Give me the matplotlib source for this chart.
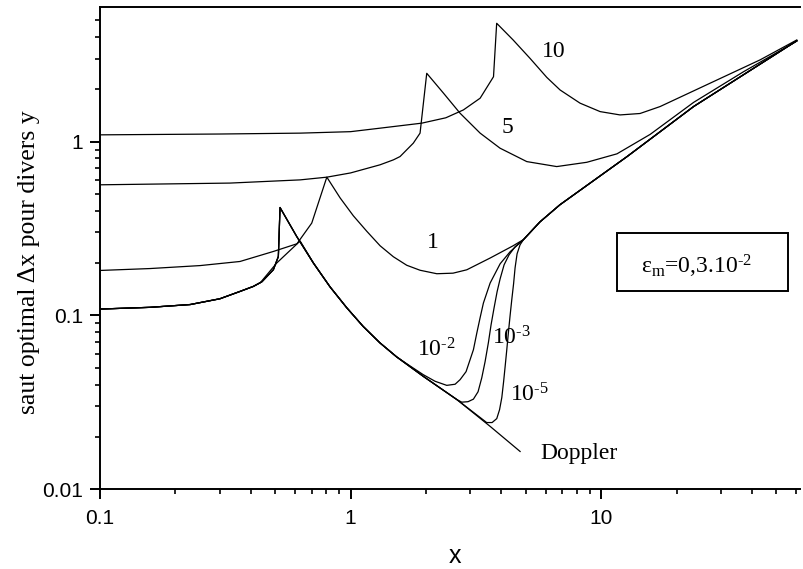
import numpy as np
import matplotlib.pyplot as plt
from matplotlib.patches import Rectangle
from matplotlib.ticker import LogLocator, NullFormatter

plt.rcParams['font.family'] = 'Liberation Serif'
plt.rcParams['mathtext.fontset'] = 'custom'
plt.rcParams['mathtext.rm'] = 'Liberation Serif'
plt.rcParams['mathtext.it'] = 'Liberation Serif:italic'

# y = 10
x10 = [0.1, 0.3, 0.629, 1.0, 1.311, 1.924, 2.4, 2.82, 3.29, 3.72, 3.83, 4.454, 5.207, 6.071, 6.86,
       8.24, 9.91, 11.9, 14.3, 17.2, 27.3, 43.1, 60.4]
y10 = [1.093, 1.105, 1.118, 1.14, 1.194, 1.276, 1.37, 1.52, 1.776, 2.36, 4.79, 3.842, 3.007, 2.339, 1.98,
       1.663, 1.487, 1.423, 1.45, 1.59, 2.17, 2.95, 3.84]

# y = 5
x5 = [0.1, 0.33, 0.629, 0.804, 1.0, 1.311, 1.483, 1.576, 1.78, 1.894, 2.014, 2.35, 2.735, 3.29,
      3.95, 5.05, 6.65, 8.77, 11.57, 15.7, 23.4, 37.0, 60.4]
y5 = [0.564, 0.577, 0.602, 0.624, 0.66, 0.735, 0.785, 0.820, 0.979, 1.118, 2.47, 1.897, 1.456, 1.118,
      0.916, 0.767, 0.718, 0.76, 0.85, 1.10, 1.68, 2.52, 3.78]

# y = 1
x1 = [0.1, 0.158, 0.251, 0.362, 0.492, 0.611, 0.700, 0.804, 0.908, 1.026, 1.161, 1.312, 1.482,
      1.676, 1.894, 2.209, 2.565, 2.91, 3.61, 4.454]
y1 = [0.1814, 0.186, 0.1935, 0.2043, 0.2333, 0.2583, 0.3397, 0.6243, 0.4747, 0.3741, 0.3047, 0.2515,
      0.2175, 0.1943, 0.1819, 0.1737, 0.175, 0.183, 0.214, 0.2515]

# small y: rise with the cusp, and the rounder rise of y = 1e-2
rise_x = [0.1, 0.158, 0.229, 0.301, 0.362, 0.409, 0.443, 0.492, 0.515, 0.523]
rise_y = [0.1088, 0.1113, 0.1155, 0.1247, 0.1374, 0.1468, 0.1563, 0.1832, 0.2183, 0.4175]
rise2_x = [0.1, 0.158, 0.229, 0.301, 0.362, 0.409, 0.436, 0.507, 0.629]
rise2_y = [0.1088, 0.1113, 0.1155, 0.1247, 0.1374, 0.1468, 0.154, 0.200, 0.268]

# Doppler branch
dop_x = [0.610, 0.711, 0.828, 0.964, 1.123, 1.309, 1.526, 1.952, 2.657, 3.607, 4.75]
dop_y = [0.284, 0.200, 0.146, 0.111, 0.0864, 0.0696, 0.0578, 0.0446, 0.0328, 0.0230, 0.0165]

# departures from the Doppler branch
xm2 = [1.728, 1.952, 2.175, 2.421, 2.614, 2.736, 2.891, 2.999, 3.093, 3.191, 3.289, 3.390, 3.606,
       3.954, 4.332]
ym2 = [0.0512, 0.0456, 0.0418, 0.0396, 0.0402, 0.0427, 0.0475, 0.0556, 0.0635, 0.0792, 0.0970,
       0.1178, 0.1535, 0.1982, 0.2323]
xm3 = [2.779, 2.944, 3.093, 3.228, 3.340, 3.443, 3.549, 3.638, 3.740, 3.845, 3.954, 4.101, 4.293,
       4.536]
ym3 = [0.0317, 0.0319, 0.0330, 0.0364, 0.0438, 0.0542, 0.0697, 0.0884, 0.1107, 0.1369, 0.1625,
       0.1956, 0.2233, 0.2482]
xm5 = [3.494, 3.672, 3.833, 3.933, 4.015, 4.082, 4.139, 4.203, 4.265, 4.332, 4.400, 4.474, 4.536,
       4.620, 4.749]
ym5 = [0.0242, 0.0242, 0.0255, 0.0287, 0.0337, 0.0416, 0.0507, 0.0635, 0.0795, 0.0996, 0.1231,
       0.1521, 0.1879, 0.2262, 0.2549]

# common large-x behaviour
asym_x = [4.90, 5.70, 6.85, 12.7, 23.4, 60.4]
asym_y = [0.273, 0.345, 0.433, 0.82, 1.59, 3.80]

curves = [
    (x10, y10),
    (x5, y5),
    (x1 + asym_x, y1 + asym_y),
    (rise_x + dop_x, rise_y + dop_y),
    (rise2_x + dop_x[1:7] + xm2 + asym_x, rise2_y + dop_y[1:7] + ym2 + asym_y),
    (rise_x + dop_x[:9] + xm3 + asym_x, rise_y + dop_y[:9] + ym3 + asym_y),
    (rise_x + dop_x[:9] + xm5 + asym_x, rise_y + dop_y[:9] + ym5 + asym_y),
]

fig = plt.figure(figsize=(8.04, 5.69), dpi=100)
ax = fig.add_axes([0.1244, 0.1401, 0.8706, 0.8471])

for cx, cy in curves:
    ax.plot(cx, cy, color='black', lw=0.9)

ax.set_xscale('log')
ax.set_yscale('log')
ax.set_xlim(0.1, 62.2)
ax.set_ylim(0.01, 5.92)

ax.set_xticks([0.1, 1, 10])
ax.set_xticklabels(['0.1', '1', '10'], family='Liberation Sans', fontsize=15)
ax.set_yticks([0.01, 0.1, 1])
ax.set_yticklabels(['0.01', '0.1', '1'], family='Liberation Sans', fontsize=15)
for axis in (ax.xaxis, ax.yaxis):
    axis.set_minor_locator(LogLocator(base=10, subs=np.arange(2, 10)))
    axis.set_minor_formatter(NullFormatter())
ax.tick_params(which='major', direction='out', length=7, width=1.4)
ax.tick_params(which='minor', direction='out', length=3.5, width=1.2)
ax.tick_params(axis='x', which='major', pad=7)
ax.tick_params(axis='y', which='major', pad=5)

ax.spines['right'].set_visible(False)
for s in ('left', 'bottom', 'top'):
    ax.spines[s].set_linewidth(1.4)

ax.set_ylabel('saut optimal \u0394x pour divers y', fontsize=18.5)
ax.yaxis.set_label_coords(-0.0857, 0.4716)
ax.set_xlabel('x', family='Liberation Sans', fontsize=18)
ax.xaxis.set_label_coords(0.507, -0.153)
ax.xaxis.label.set_va('baseline')

labels = [
    (5.80, 3.08, '10'),
    (4.015, 1.118, '5'),
    (2.015, 0.244, '1'),
    (1.838, 0.0581, '10$^{\u20102}$'),
    (3.66, 0.0679, '10$^{\u20103}$'),
    (4.33, 0.0321, '10$^{\u20105}$'),
    (5.71, 0.0150, 'Doppler'),
]
for lx, ly, s in labels:
    ax.text(lx, ly, s, fontsize=17, ha='left', va='baseline')

ax.add_patch(Rectangle((0.738, 0.412), 0.245, 0.119, transform=ax.transAxes,
                       fill=False, lw=1.4, clip_on=False))
ax.text(0.852, 0.448, '\u03b5$_{\\mathrm{m}}$=0,3.10$^{\u20102}$', transform=ax.transAxes,
        fontsize=17, ha='center', va='baseline')

fig.savefig('out.png', dpi=100)
